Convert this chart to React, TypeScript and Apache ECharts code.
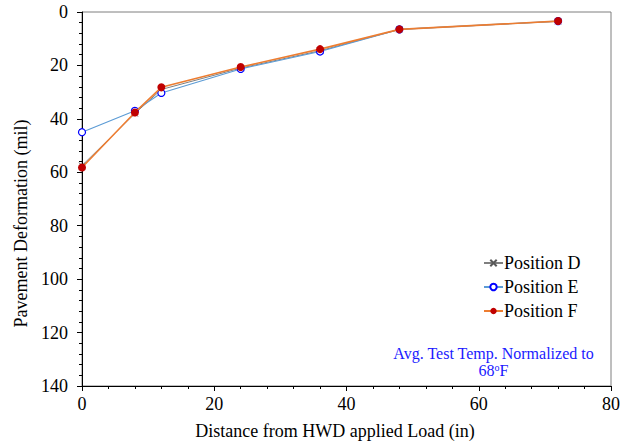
import React, { useEffect, useRef } from "react";
import * as echarts from "echarts";

const distances = [0, 8, 12, 24, 36, 48, 72];
const positionD = [57.5, 38, 29, 21, 14.5, 6.5, 3.5];
const positionE = [45, 37, 30.3, 21.3, 14.8, 6.5, 3.4];
const positionF = [58.2, 37.6, 28.2, 20.6, 13.9, 6.5, 3.4];
const seriesNames = ["Position D", "Position E", "Position F"];
const noteLine1 = "Avg. Test Temp. Normalized to";

const FONT = "'Liberation Serif', 'Times New Roman', serif";

export default function App() {
  const ref = useRef<HTMLDivElement>(null);
  useEffect(() => {
    if (!ref.current) return;
    document.body.style.margin = "0";
    document.body.style.overflow = "hidden";
    const chart = echarts.init(ref.current, null, { renderer: "svg" });
    const pair = (ys: number[]) => distances.map((x, i) => [x, ys[i]]);
    chart.setOption({
      animation: false,
      backgroundColor: "#fff",
      textStyle: { fontFamily: FONT },
      grid: {
        left: 82,
        top: 12,
        right: 15,
        bottom: 58,
        show: true,
        borderColor: "#7f7f7f",
        borderWidth: 1,
      },
      legend: {
        orient: "vertical",
        left: 478,
        top: 249,
        itemGap: 6,
        itemWidth: 19,
        itemHeight: 8,
        textStyle: { fontFamily: FONT, fontSize: 18, color: "#000", padding: [0, 0, 0, -4] },
        data: seriesNames,
      },
      xAxis: {
        type: "value",
        min: 0,
        max: 80,
        interval: 20,
        name: "Distance from HWD applied Load (in)",
        nameLocation: "middle",
        nameGap: 36,
        nameTextStyle: { fontFamily: FONT, fontSize: 18, color: "#000", padding: [0, 23, 0, 0] },
        axisLine: { show: true, onZero: false, lineStyle: { color: "#000", width: 1 } },
        axisTick: { show: true, length: 5, lineStyle: { color: "#000" } },
        minorTick: { show: true, splitNumber: 5, length: 3, lineStyle: { color: "#000" } },
        axisLabel: { fontFamily: FONT, fontSize: 18, color: "#000", margin: 9 },
        splitLine: { show: false },
      },
      yAxis: {
        type: "value",
        inverse: true,
        min: 0,
        max: 140,
        interval: 20,
        name: "Pavement Deformation (mil)",
        nameLocation: "middle",
        nameGap: 47.5,
        nameTextStyle: { fontFamily: FONT, fontSize: 18, color: "#000", padding: [0, 49, 0, 0] },
        axisLine: { show: true, onZero: false, lineStyle: { color: "#000", width: 1 } },
        axisTick: { show: true, length: 5, lineStyle: { color: "#000" } },
        minorTick: { show: true, splitNumber: 5, length: 3, lineStyle: { color: "#000" } },
        axisLabel: { fontFamily: FONT, fontSize: 18, color: "#000", margin: 14 },
        splitLine: { show: false },
      },
      series: [
        {
          name: seriesNames[0],
          type: "line",
          data: pair(positionD),
          symbol: "path://M0,0L10,10M10,0L0,10",
          symbolSize: 6,
          lineStyle: { color: "#7f7f7f", width: 1 },
          itemStyle: { color: "none", borderColor: "#595959", borderWidth: 1 },
          z: 1,
        },
        {
          name: seriesNames[1],
          type: "line",
          data: pair(positionE),
          symbol: "circle",
          symbolSize: 7,
          showAllSymbol: true,
          lineStyle: { color: "#5B9BD5", width: 1.1 },
          itemStyle: { color: "#fff", borderColor: "#0000FF", borderWidth: 1.2 },
          z: 2,
        },
        {
          name: seriesNames[2],
          type: "line",
          data: pair(positionF),
          symbol: "circle",
          symbolSize: 8,
          lineStyle: { color: "#ED7D31", width: 1.6 },
          itemStyle: { color: "#C00000", borderColor: "#C00000", borderWidth: 0 },
          z: 3,
        },
      ],
      graphic: [
        {
          type: "text",
          x: 493.5,
          y: 353.3,
          style: {
            text: noteLine1,
            fontFamily: FONT,
            fontSize: 16,
            fill: "#1a1aff",
            textAlign: "center",
            textVerticalAlign: "middle",
          },
        },
        {
          type: "text",
          x: 493.5,
          y: 370.7,
          style: {
            text: "68{sup|o}F",
            fontFamily: FONT,
            fontSize: 16,
            fill: "#1a1aff",
            textAlign: "center",
            textVerticalAlign: "middle",
            rich: {
              sup: { fontSize: 10, fill: "#1a1aff", verticalAlign: "top", padding: [0, 0, 6, 0], fontFamily: FONT },
            },
          },
        },
      ],
    });
    return () => chart.dispose();
  }, []);
  return <div ref={ref} style={{ width: 626, height: 445 }} />;
}
